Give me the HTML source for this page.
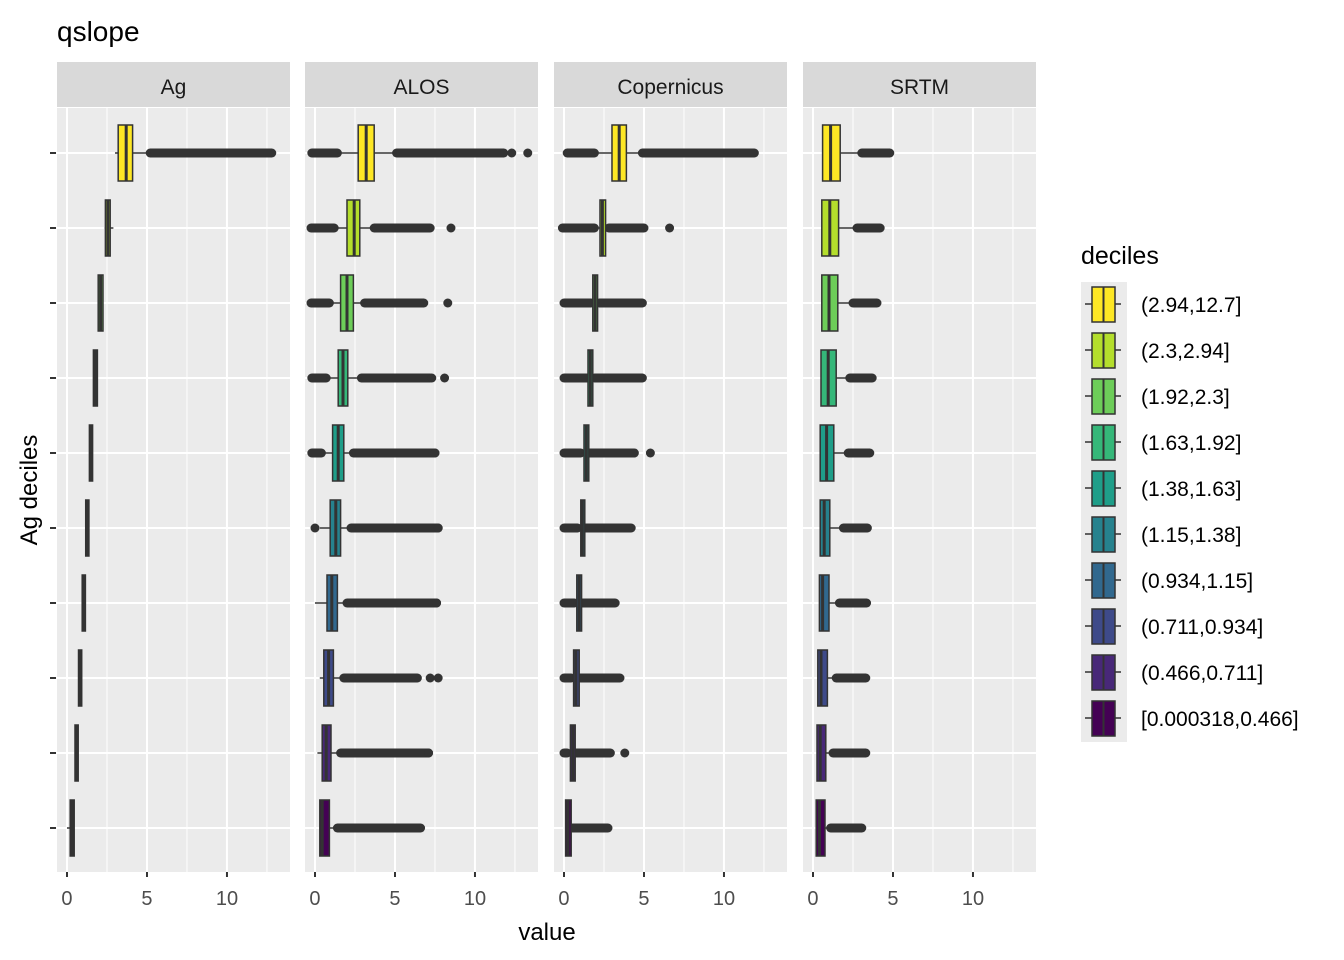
<!DOCTYPE html>
<html><head><meta charset="utf-8">
<style>
body{margin:0;background:#fff;}
svg{display:block;font-family:"Liberation Sans",Arial,sans-serif;}
</style></head>
<body>
<svg id="c" width="1344" height="960" xmlns="http://www.w3.org/2000/svg">
<text x="57" y="41" font-size="28" fill="#000">qslope</text>
<text x="547" y="940" font-size="24" text-anchor="middle" fill="#000">value</text>
<text transform="translate(37,490) rotate(-90)" font-size="24" text-anchor="middle" fill="#000">Ag deciles</text>
<g id="panels"></g>
<g id="legend"></g>
</svg>
<script>
const panelNames = ["Ag","ALOS","Copernicus","SRTM"];
const deciles = ["(2.94,12.7]","(2.3,2.94]","(1.92,2.3]","(1.63,1.92]","(1.38,1.63]","(1.15,1.38]","(0.934,1.15]","(0.711,0.934]","(0.466,0.711]","[0.000318,0.466]"];
const colors = ["#FDE725","#B4DE2C","#6DCD59","#35B779","#1F9E89","#26828E","#31688E","#3E4A89","#482878","#440154"];
const xTicks = [0,5,10];
// per row: [lowOutMin, lowOutMax, whiskerLo, q1, median, q3, whiskerHi, hiOutMin, hiOutMax]
const agStats = [
 [null,null,3.0,3.2,3.7,4.1,5.2,5.2,12.8],
 [null,null,2.35,2.4,2.55,2.7,2.9,null,null],
 [null,null,1.93,1.95,2.1,2.25,2.28,null,null],
 [null,null,1.64,1.65,1.78,1.9,1.91,null,null],
 [null,null,1.39,1.4,1.5,1.6,1.62,null,null],
 [null,null,1.16,1.17,1.27,1.37,1.38,null,null],
 [null,null,0.94,0.95,1.05,1.15,1.15,null,null],
 [null,null,0.72,0.72,0.82,0.92,0.93,null,null],
 [null,null,0.48,0.5,0.6,0.7,0.71,null,null],
 [null,null,0.0,0.2,0.33,0.45,0.46,null,null]
];
const alosStats = [
 [-0.2,1.4,1.4,2.7,3.2,3.7,5.1,5.1,11.8],
 [-0.25,1.2,1.2,2.0,2.45,2.8,3.6,3.7,7.2],
 [-0.25,0.9,0.9,1.6,2.0,2.4,3.1,3.1,6.8],
 [-0.2,0.7,0.7,1.45,1.75,2.05,2.9,2.9,7.2],
 [-0.2,0.4,0.5,1.1,1.45,1.8,2.4,2.4,7.5],
 [0.0,0.0,0.3,0.95,1.3,1.6,2.25,2.25,7.7],
 [null,null,0.0,0.75,1.05,1.4,2.0,2.0,7.6],
 [null,null,0.3,0.55,0.85,1.15,1.8,1.8,6.4],
 [null,null,0.15,0.45,0.7,1.0,1.6,1.6,7.1],
 [null,null,0.3,0.3,0.45,0.9,1.4,1.4,6.6]
];
const alosExtra = [[12.3,13.3],[8.5],[8.3],[7.3,8.1],[7.5],[7.7],[7.6],[7.2,7.7],[7.1],[]];
const copStats = [
 [0.2,1.9,1.9,3.0,3.45,3.9,4.9,4.9,11.9],
 [-0.1,1.9,1.9,2.25,2.4,2.6,2.8,2.8,5.0],
 [0.0,1.7,1.7,1.8,1.95,2.1,2.2,2.2,4.9],
 [0.0,1.45,1.45,1.5,1.65,1.8,1.9,1.9,4.9],
 [0.0,1.05,1.1,1.25,1.4,1.55,1.6,1.6,4.4],
 [0.0,0.85,0.9,1.05,1.15,1.3,1.3,1.3,4.2],
 [0.0,0.65,0.7,0.8,0.95,1.1,1.1,1.1,3.2],
 [0.0,0.45,0.5,0.6,0.75,0.95,1.0,1.0,3.5],
 [0.0,0.2,0.3,0.4,0.55,0.7,0.75,0.75,2.9],
 [null,null,0.1,0.1,0.25,0.45,0.5,0.5,2.75]
];
const copExtra = [[],[6.6],[],[],[5.4],[],[],[],[3.8],[]];
const srtmStats = [
 [null,null,0.6,0.6,1.1,1.7,3.05,3.05,4.8],
 [null,null,0.55,0.55,1.05,1.6,2.75,2.75,4.2],
 [null,null,0.55,0.55,1.0,1.55,2.5,2.5,4.0],
 [null,null,0.5,0.5,0.95,1.45,2.3,2.3,3.7],
 [null,null,0.45,0.45,0.85,1.3,2.2,2.2,3.55],
 [null,null,0.45,0.45,0.7,1.05,1.9,1.9,3.4],
 [null,null,0.4,0.4,0.6,1.0,1.65,1.65,3.35],
 [null,null,0.3,0.3,0.5,0.9,1.45,1.45,3.3],
 [null,null,0.25,0.25,0.45,0.8,1.25,1.25,3.3],
 [null,null,0.2,0.2,0.4,0.75,1.1,1.1,3.05]
];
const allStats = [agStats, alosStats, copStats, srtmStats];
const allExtra = [[[],[],[],[],[],[],[],[],[],[]], alosExtra, copExtra, [[],[],[],[],[],[],[],[],[],[]]];

const NS="http://www.w3.org/2000/svg";
function mk(tag, attrs, parent){const e=document.createElementNS(NS,tag);for(const k in attrs)e.setAttribute(k,attrs[k]);parent.appendChild(e);return e;}
const panelLefts=[57,305,554,803], PW=233, PT=108, PB=872;
const xMin=-0.625, xMax=13.94;
function xScale(i,v){return panelLefts[i]+(v-xMin)/(xMax-xMin)*PW;}
function yScale(r){return 153+r*75;}
const BH=56;
const pg=document.getElementById('panels');
panelNames.forEach((name,i)=>{
  const g=mk('g',{},pg);
  
  
  const L=panelLefts[i];
  const bg=mk('rect',{x:L,y:PT,width:PW,height:PB-PT,fill:'#EBEBEB'},g);
  
  
  const st=mk('rect',{x:L,y:62,width:PW,height:45,fill:'#D9D9D9'},g);
  
  
  const stt=mk('text',{x:L+PW/2,y:94,'font-size':21,'text-anchor':'middle',fill:'#1A1A1A'},g);
  stt.textContent=name;
  
  
  [2.5,7.5,12.5].forEach(v=>{mk('line',{x1:xScale(i,v),x2:xScale(i,v),y1:PT,y2:PB,stroke:'#fff','stroke-width':1}, g);});
  xTicks.forEach(v=>{
    const x=xScale(i,v);
    mk('line',{x1:x,x2:x,y1:PT,y2:PB,stroke:'#fff','stroke-width':2},g);
    mk('line',{x1:x,x2:x,y1:PB,y2:PB+5,stroke:'#333','stroke-width':2},g);
    const t=mk('text',{x:x,y:905,'font-size':20,'text-anchor':'middle',fill:'#4D4D4D'},g);
    t.textContent=v;
    
    
  });
  for(let r=0;r<10;r++) mk('line',{x1:L,x2:L+PW,y1:yScale(r),y2:yScale(r),stroke:'#fff','stroke-width':2},g);
  allStats[i].forEach((s,r)=>{
    const y=yScale(r);
    const bx=mk('g',{},g);
    
    
    const [lo0,lo1,wl,q1,md,q3,wh,hi0,hi1]=s;
    if(lo0!==null) mk('line',{x1:xScale(i,lo0),x2:xScale(i,lo1),y1:y,y2:y,stroke:'#333','stroke-width':9,'stroke-linecap':'round'},bx);
    if(hi0!==null) mk('line',{x1:xScale(i,hi0),x2:xScale(i,hi1),y1:y,y2:y,stroke:'#333','stroke-width':9,'stroke-linecap':'round'},bx);
    allExtra[i][r].forEach(v=>mk('circle',{cx:xScale(i,v),cy:y,r:4.5,fill:'#333'},bx));
    mk('line',{x1:xScale(i,wl),x2:xScale(i,wh),y1:y,y2:y,stroke:'#333','stroke-width':1.5},bx);
    const w=Math.max(xScale(i,q3)-xScale(i,q1),3);
    mk('rect',{x:xScale(i,q1),y:y-BH/2,width:w,height:BH,fill:colors[r],stroke:'#333','stroke-width':1.5},bx);
    mk('line',{x1:xScale(i,md),x2:xScale(i,md),y1:y-BH/2,y2:y+BH/2,stroke:'#333','stroke-width':3},bx);
  });
});
for(let r=0;r<10;r++) mk('line',{x1:50,x2:56,y1:yScale(r),y2:yScale(r),stroke:'#333','stroke-width':2},pg);

const lg=document.getElementById('legend');


const lt=mk('text',{x:1081,y:264,'font-size':25,fill:'#000'},lg);
lt.textContent='deciles';


mk('rect',{x:1081,y:282,width:46,height:460,fill:'#EBEBEB'},lg);
deciles.forEach((d,r)=>{
  const y=304+r*46;
  const e=mk('g',{},lg);
  
  
  mk('line',{x1:1085,x2:1121,y1:y,y2:y,stroke:'#333','stroke-width':1.5},e);
  mk('rect',{x:1092,y:y-17,width:23,height:35,fill:colors[r],stroke:'#333','stroke-width':1.5},e);
  mk('line',{x1:1103.5,x2:1103.5,y1:y-17,y2:y+18,stroke:'#333','stroke-width':2},e);
  const t=mk('text',{x:1141,y:y+8,'font-size':21,fill:'#000'},e);
  t.textContent=d;
});
</script>
</body></html>
